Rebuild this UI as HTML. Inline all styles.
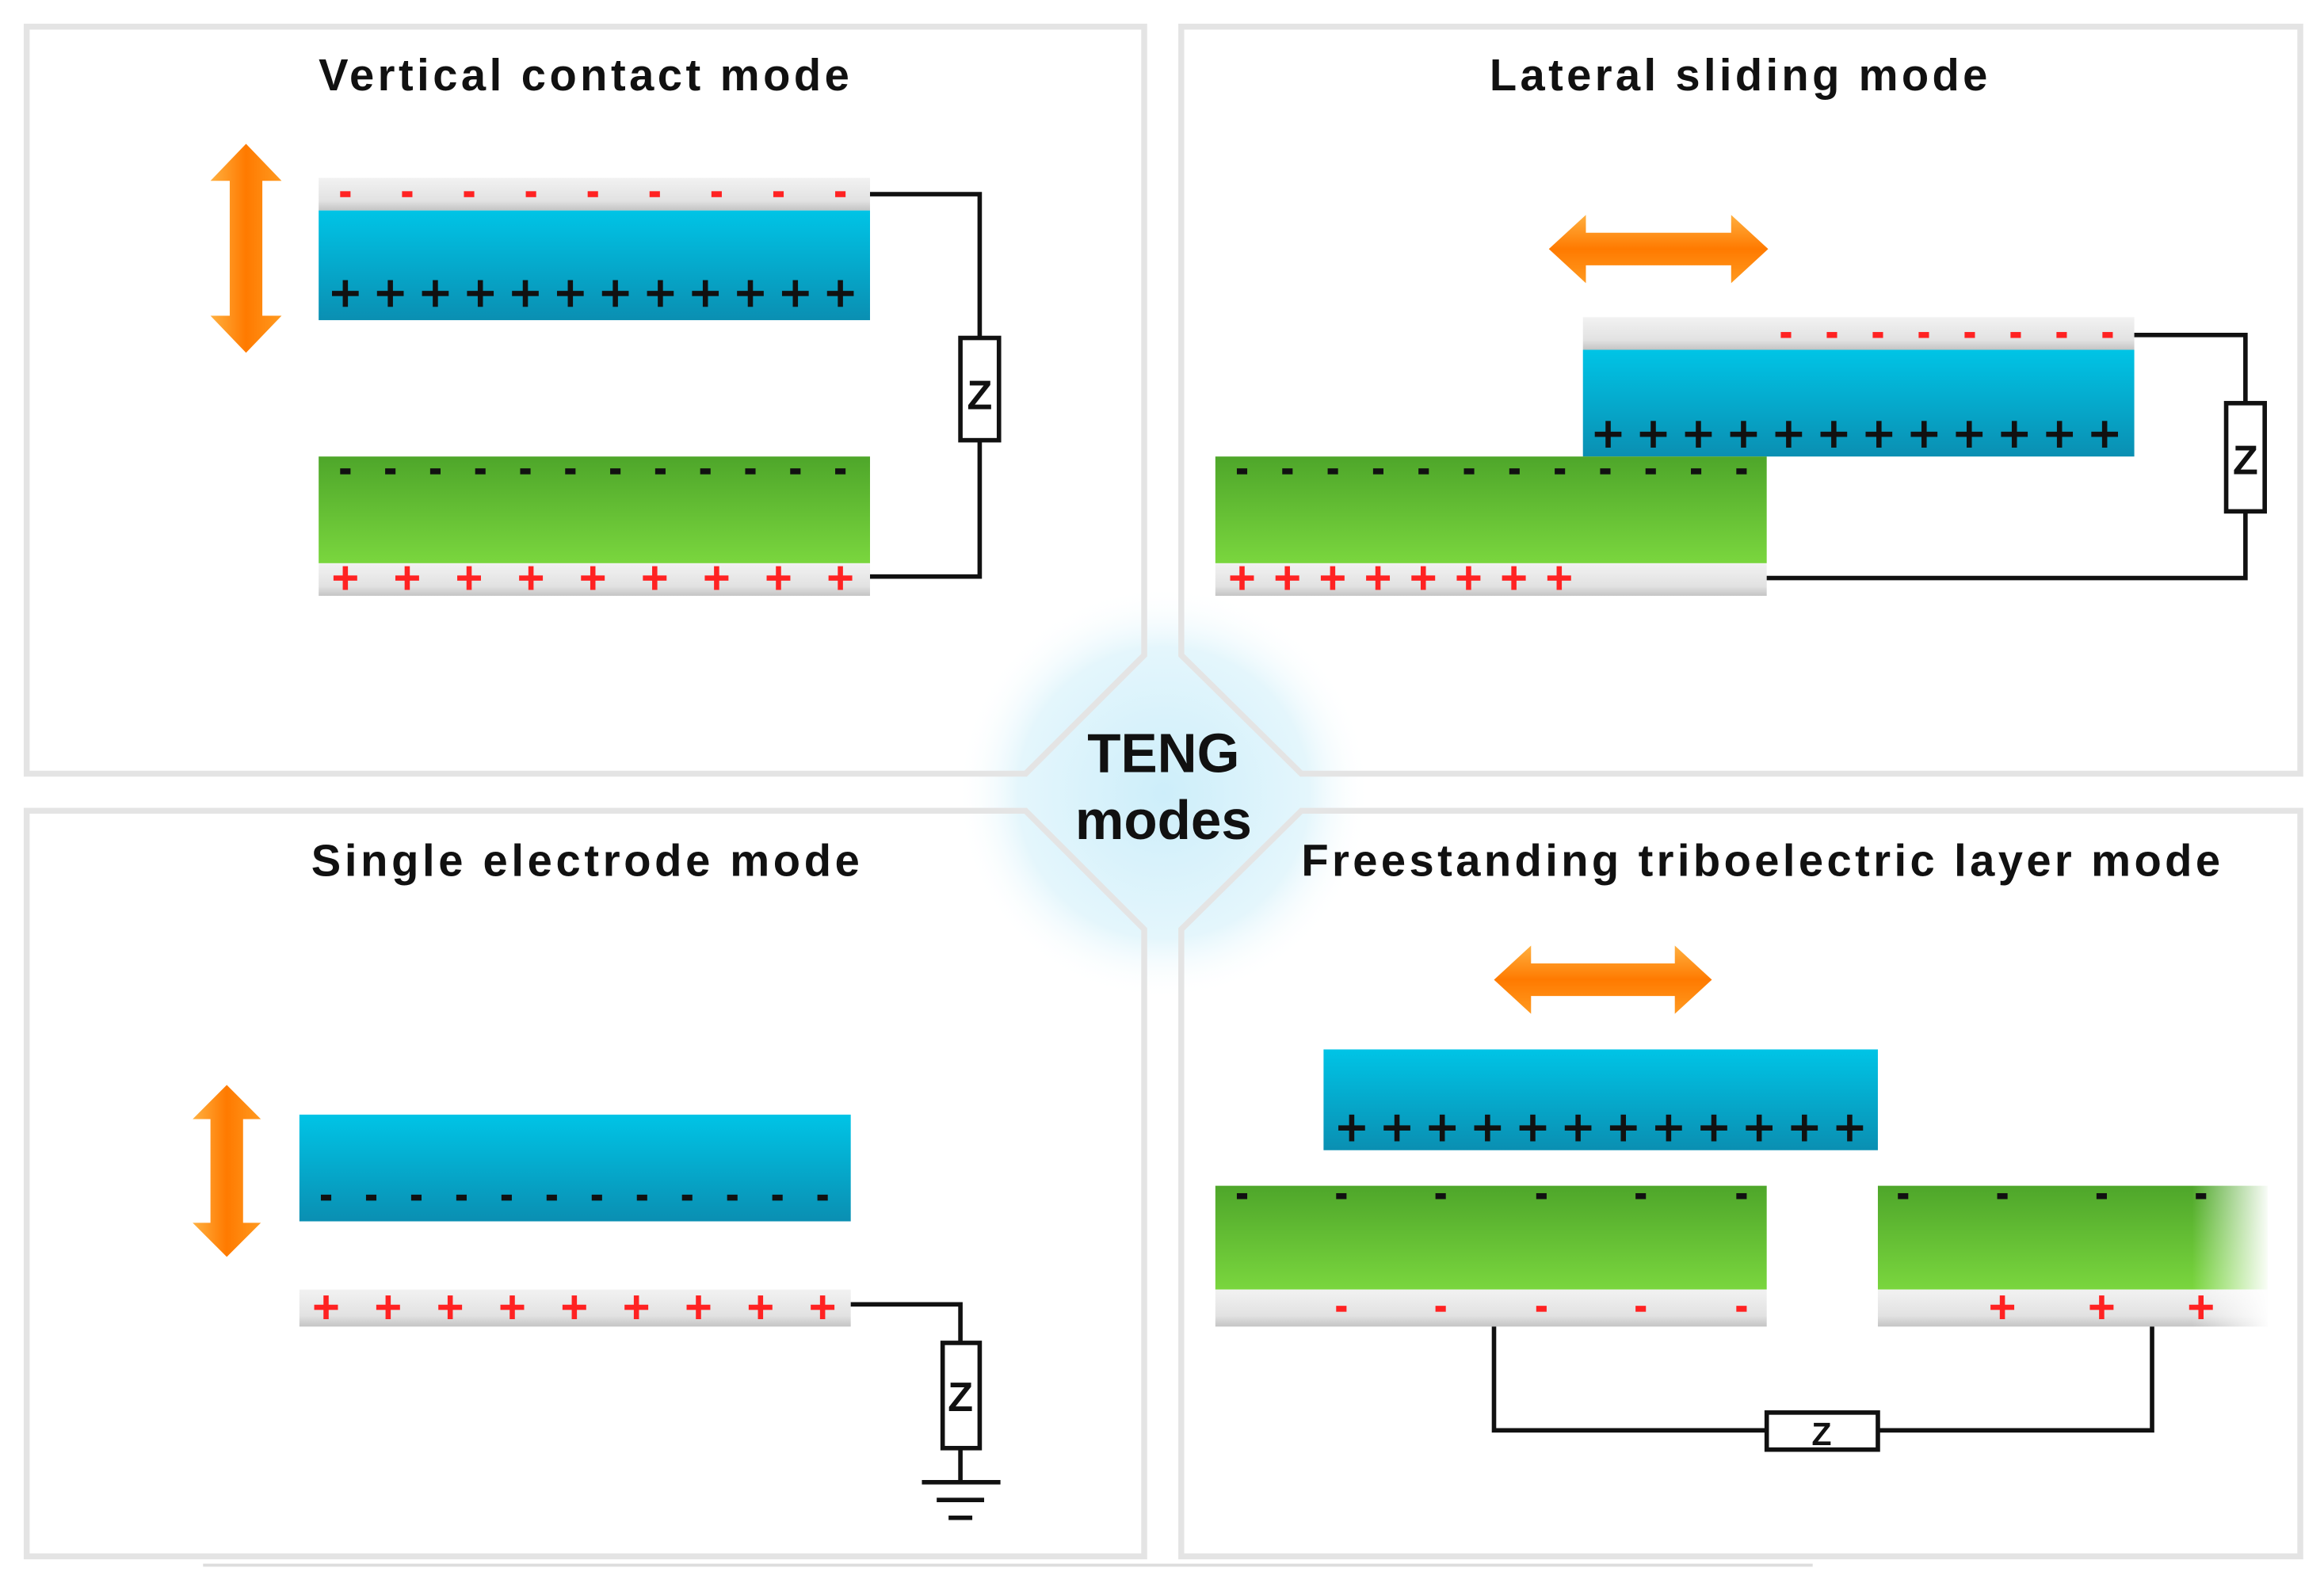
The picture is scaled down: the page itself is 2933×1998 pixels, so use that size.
<!DOCTYPE html>
<html><head><meta charset="utf-8"><style>
html,body{margin:0;padding:0;background:#fff;}
svg{display:block;}
text{font-family:"Liberation Sans",sans-serif;font-weight:bold;fill:#111;}
</style></head><body>
<svg id="s" width="2933" height="1998" viewBox="0 0 1568 1068" preserveAspectRatio="none" xmlns="http://www.w3.org/2000/svg">
<defs>
<linearGradient id="blue" x1="0" y1="0" x2="0" y2="1"><stop offset="0" stop-color="#00c4e6"/><stop offset="1" stop-color="#0a8fb2"/></linearGradient>
<linearGradient id="green" x1="0" y1="0" x2="0" y2="1"><stop offset="0" stop-color="#4ea62a"/><stop offset="1" stop-color="#7ad63e"/></linearGradient>
<linearGradient id="gray" x1="0" y1="0" x2="0" y2="1"><stop offset="0" stop-color="#f2f2f2"/><stop offset="0.7" stop-color="#e2e2e2"/><stop offset="1" stop-color="#c4c4c4"/></linearGradient>
<linearGradient id="fadeR" x1="0" y1="0" x2="1" y2="0"><stop offset="0.8" stop-color="#fff" stop-opacity="0"/><stop offset="1" stop-color="#fff" stop-opacity="1"/></linearGradient>
<linearGradient id="orV" x1="0" y1="0" x2="1" y2="0"><stop offset="0" stop-color="#ffb040"/><stop offset="0.5" stop-color="#ff7a00"/><stop offset="1" stop-color="#ff9a20"/></linearGradient>
<linearGradient id="orH" x1="0" y1="0" x2="0" y2="1"><stop offset="0" stop-color="#ffb040"/><stop offset="0.5" stop-color="#ff7a00"/><stop offset="1" stop-color="#ff9a20"/></linearGradient>
<radialGradient id="glow" cx="0.5" cy="0.5" r="0.5"><stop offset="0" stop-color="#cdeefa"/><stop offset="0.7" stop-color="#e4f6fc"/><stop offset="1" stop-color="#fff" stop-opacity="0"/></radialGradient>
</defs>
<rect width="1568" height="1068" fill="#fff"/>
<circle cx="785" cy="535" r="140" fill="url(#glow)"/>
<g fill="none" stroke="#e4e4e4" stroke-width="4">
<polygon points="18,18 772,18 772,442 692,522 18,522"/>
<polygon points="797,18 1552,18 1552,522 878,522 797,442"/>
<polygon points="18,547 692,547 772,627 772,1050 18,1050"/>
<polygon points="878,547 1552,547 1552,1050 797,1050 797,627"/>
</g>
<line x1="137" y1="1056" x2="1223" y2="1056" stroke="#ddd" stroke-width="2"/>
<text x="215" y="61" font-size="30" textLength="358" lengthAdjust="spacing">Vertical  contact  mode</text>
<text x="1005" y="61" font-size="30" textLength="336" lengthAdjust="spacing">Lateral  sliding  mode</text>
<text x="210" y="591" font-size="30" textLength="370" lengthAdjust="spacing">Single  electrode  mode</text>
<text x="878" y="591" font-size="30" textLength="620" lengthAdjust="spacing">Freestanding  triboelectric  layer  mode</text>
<text x="785" y="521" font-size="37" text-anchor="middle">TENG</text>
<text x="785" y="566" font-size="37" text-anchor="middle">modes</text>

<rect x="215" y="120" width="372" height="22" fill="url(#gray)"/>
<rect x="215" y="142" width="372" height="74" fill="url(#blue)"/>
<rect x="215" y="308" width="372" height="72" fill="url(#green)"/>
<rect x="215" y="380" width="372" height="22" fill="url(#gray)"/>
<polyline points="587,131 661,131 661,389 587,389" fill="none" stroke="#111" stroke-width="3"/>
<rect x="648" y="228" width="26" height="69" fill="#fff" stroke="#111" stroke-width="3"/>
<text x="661" y="276" font-size="28" text-anchor="middle" font-weight="normal">Z</text>

<rect x="1068" y="214" width="372" height="22" fill="url(#gray)"/>
<rect x="1068" y="236" width="372" height="72" fill="url(#blue)"/>
<rect x="820" y="308" width="372" height="72" fill="url(#green)"/>
<rect x="820" y="380" width="372" height="22" fill="url(#gray)"/>
<polyline points="1440,226 1515,226 1515,390 1192,390" fill="none" stroke="#111" stroke-width="3"/>
<rect x="1502" y="272" width="26" height="73" fill="#fff" stroke="#111" stroke-width="3"/>
<text x="1515" y="320" font-size="28" text-anchor="middle" font-weight="normal">Z</text>

<rect x="202" y="752" width="372" height="72" fill="url(#blue)"/>
<rect x="202" y="870" width="372" height="25" fill="url(#gray)"/>
<polyline points="574,880 648,880 648,1000" fill="none" stroke="#111" stroke-width="3"/>
<rect x="636" y="906" width="25" height="71" fill="#fff" stroke="#111" stroke-width="3"/>
<text x="648" y="952" font-size="28" text-anchor="middle" font-weight="normal">Z</text>
<g stroke="#111" stroke-width="3"><line x1="622" y1="1000" x2="675" y2="1000"/><line x1="632" y1="1012" x2="664" y2="1012"/><line x1="640" y1="1024" x2="656" y2="1024"/></g>

<rect x="893" y="708" width="374" height="68" fill="url(#blue)"/>
<rect x="820" y="800" width="372" height="70" fill="url(#green)"/>
<rect x="820" y="870" width="372" height="25" fill="url(#gray)"/>
<rect x="1267" y="800" width="263" height="70" fill="url(#green)"/>
<rect x="1267" y="870" width="263" height="25" fill="url(#gray)"/>
<rect x="1267" y="795" width="265" height="105" fill="url(#fadeR)"/>
<polyline points="1008,895 1008,965 1192,965" fill="none" stroke="#111" stroke-width="3"/>
<polyline points="1267,965 1452,965 1452,895" fill="none" stroke="#111" stroke-width="3"/>
<rect x="1192" y="953" width="75" height="25" fill="#fff" stroke="#111" stroke-width="3"/>
<text x="1229" y="975" font-size="22" text-anchor="middle" font-weight="normal">Z</text>

<g id="signs"></g>
<polygon points="166,97 190,122 177,122 177,213 190,213 166,238 142,213 155,213 155,122 142,122" fill="url(#orV)"/>
<polygon points="153,732 176,755 164,755 164,825 176,825 153,848 130,825 142,825 142,755 130,755" fill="url(#orV)"/>
<polygon points="1045,168 1070,145 1070,157 1168,157 1168,145 1193,168 1168,191 1168,179 1070,179 1070,191" fill="url(#orH)"/>
<polygon points="1008,661 1033,638 1033,650 1130,650 1130,638 1155,661 1130,684 1130,672 1033,672 1033,684" fill="url(#orH)"/>
</svg>
<script>
var g=document.getElementById('signs'),NS='http://www.w3.org/2000/svg';
function r(x,y,w,h,c){var e=document.createElementNS(NS,'rect');e.setAttribute('x',x-w/2);e.setAttribute('y',y-h/2);e.setAttribute('width',w);e.setAttribute('height',h);e.setAttribute('fill',c);g.appendChild(e);}
function plus(x,y,c,s){r(x,y,s,3.5,c);r(x,y,3.5,s,c);}
function minus(x,y,c){r(x,y,7,4,c);}
function row(x0,x1,n,y,f,c,s){for(var i=0;i<n;i++){var x=n>1?x0+(x1-x0)*i/(n-1):x0;f(x,y,c,s);}}
row(233,567,9,131,minus,'#f22');
row(233,567,12,198,plus,'#111',18);
row(233,567,12,318,minus,'#111');
row(233,567,9,390,plus,'#f22',16);
row(1205,1422,8,226,minus,'#f22');
row(1085,1420,12,293,plus,'#111',18);
row(838,1175,12,318,minus,'#111');
row(838,1052,8,390,plus,'#f22',16);
row(220,555,12,808,minus,'#111');
row(220,555,9,882,plus,'#f22',16);
row(912,1248,12,761,plus,'#111',18);
[838,905,972,1040,1107,1175,1284,1351,1418,1485].forEach(function(x){minus(x,807,'#111');});
[905,972,1040,1107,1175].forEach(function(x){minus(x,883,'#f22');});
[1351,1418,1485].forEach(function(x){plus(x,882,'#f22',16);});
</script>
</body></html>
